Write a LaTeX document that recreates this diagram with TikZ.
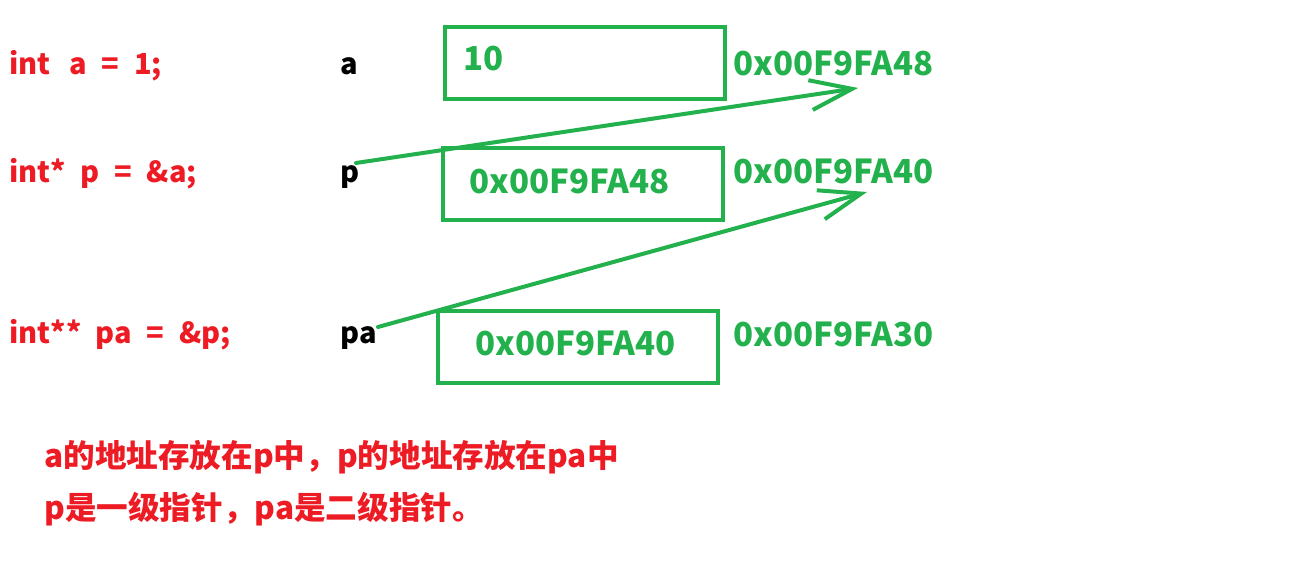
\documentclass[tikz,border=0pt]{standalone}
\usepackage{fontspec}
\setmainfont{Noto Sans CJK SC}
\newfontfamily\codefont{Noto Sans CJK SC}[WordSpace=2.2]
\usetikzlibrary{arrows.meta}
\definecolor{paintred}{RGB}{237,28,36}
\definecolor{paintgreen}{RGB}{34,177,76}
\tikzset{
  code/.style={anchor=base west,inner sep=0pt,text=paintred,
    font=\codefont\fontsize{14.5}{17}\selectfont\bfseries},
  note/.style={anchor=base west,inner sep=0pt,text=paintred,
    font=\fontsize{15.8}{19}\selectfont\bfseries},
  varname/.style={anchor=base west,inner sep=0pt,text=black,
    font=\fontsize{14.5}{17}\selectfont\bfseries},
  addr/.style={anchor=base west,inner sep=0pt,text=paintgreen,
    font=\fontsize{16.5}{19}\selectfont\bfseries},
  cell/.style={draw=paintgreen,line width=2pt,minimum width=140pt,
    minimum height=36pt,inner sep=0pt},
  pointer/.style={draw=paintgreen,line width=2pt,line cap=round,
    -{Straight Barb[length=21pt,width=15pt]}},
}
\begin{document}
\begin{tikzpicture}[x=0.5pt,y=-0.5pt]
  \useasboundingbox (0,0) rectangle (1306,565);
  % declarations
  \node[code] (declA) at (9,75) {int\ \hspace{2.2pt}a = 1;};
  \node[code] (declP) at (9,183) {int* p = \&a;};
  \node[code] (declPA) at (9,344) {int** pa = \&p;};
  % variable names
  \node[varname] (nameA) at (340,75) {a};
  \node[varname] (nameP) at (340,183) {p};
  \node[varname] (namePA) at (340,344) {pa};
  % memory cells
  \node[cell] (cellA) at (585,63) {};
  \node[cell] (cellP) at (582.5,184) {};
  \node[cell] (cellPA) at (577.5,347) {};
  \node[addr] (valA) at (463,71) {10};
  \node[addr] (valP) at (469,194) {0x00F9FA48};
  \node[addr] (valPA) at (475,356) {0x00F9FA40};
  % addresses
  \node[addr] (addrA) at (733,76) {0x00F9FA48};
  \node[addr] (addrP) at (733,184) {0x00F9FA40};
  \node[addr] (addrPA) at (733,347) {0x00F9FA30};
  % pointers
  \coordinate (fromP) at (356,163);
  \coordinate (toA) at (858,88);
  \coordinate (fromPA) at (378,327);
  \coordinate (toP) at (867,192);
  \draw[pointer] (fromP) -- (toA);
  \draw[pointer] (fromPA) -- (toP);
  % notes
  \node[note] (note1) at (44,468) {a的地址存放在p中，p的地址存放在pa中};
  \node[note] (note2) at (44,520) {p是一级指针，pa是二级指针。};
\end{tikzpicture}
\end{document}
